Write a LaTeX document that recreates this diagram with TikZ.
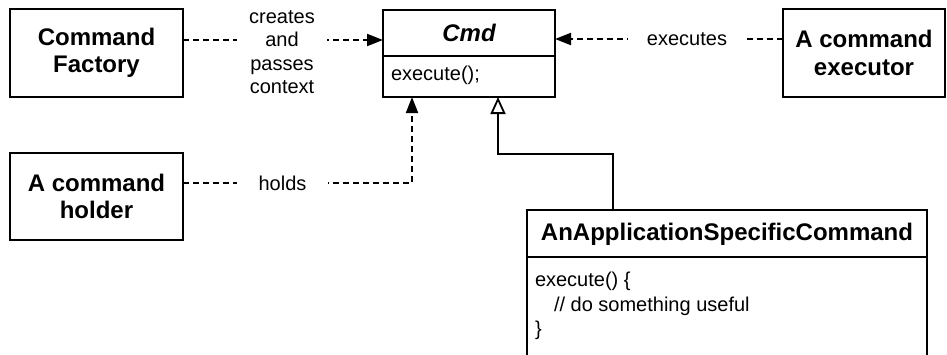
\documentclass[tikz,border=0pt]{standalone}
\usepackage{fontspec}
\setmainfont{Liberation Sans}
\usetikzlibrary{arrows.meta}
\begin{document}
\begin{tikzpicture}[x=1pt,y=-1pt,
  box/.style={draw, line width=2pt, inner sep=0pt, outer sep=0pt, anchor=north west, align=center, font=\bfseries\fontsize{24}{27.5}\selectfont},
  dep/.style={line width=2pt, dash pattern=on 6pt off 4pt, -{Triangle[length=16pt,width=12pt]}},
  inh/.style={line width=2pt, -{Triangle[open,length=17pt,width=15pt,line width=1.8pt]}},
  lbl/.style={fill=white, inner ysep=0pt, align=center, font=\fontsize{20}{23.5}\selectfont},
  txt/.style={inner sep=0pt, outer sep=0pt, align=left, font=\fontsize{20}{24.5}\selectfont},
  divider/.style={line width=2pt}
]
\useasboundingbox (0,0) rectangle (947,354);
% boxes
\node[box, minimum width=173pt, minimum height=88pt] (factory) at (10,9) {Command\\Factory};
\node[box, minimum width=162pt, minimum height=88pt] (exec) at (783,9) {A command\\executor};
\node[box, minimum width=173pt, minimum height=87pt] (holder) at (10,153) {A command\\holder};
\node[box, minimum width=172pt, minimum height=87pt] (cmd) at (383,10) {};
\node[inner sep=0pt, font=\bfseries\itshape\fontsize{24}{27.5}\selectfont] (cmdtitle) at (469,33) {Cmd};
\draw[divider] (cmd.west |- 0,56) coordinate (cdl) -- (cmd.east |- 0,56) coordinate (cdr);
\node[txt, anchor=north west] (cmdop) at (391,66) {execute();};
\node[box, minimum width=400pt, minimum height=170pt] (app) at (527,210) {};
\node[inner sep=0pt, font=\bfseries\fontsize{24}{27.5}\selectfont] (apptitle) at (727,234) {AnApplicationSpecificCommand};
\draw[divider] (app.west |- 0,257) coordinate (adl) -- (app.east |- 0,257) coordinate (adr);
\node[txt, anchor=north west] (appbody) at (535,272) {execute() \{\\\hspace*{19pt}// do something useful\\\}};
% connectors
\draw[dep] ([yshift=-31pt]factory.north east) -- ([yshift=-30pt]cmd.north west);
\draw[dep] ([yshift=-30pt]exec.north west) -- ([yshift=-29pt]cmd.north east);
\draw[dep] ([yshift=-30pt]holder.north east) -| ([xshift=29pt]cmd.south west);
\draw[inh] ([xshift=86pt]app.north west) -- ++(0,-56) -| ([xshift=115pt]cmd.south west);
% labels
\node[lbl, inner xsep=12pt] (lcreates) at (282,52) {creates\\and\\passes\\context};
\node[lbl, inner xsep=19pt] (lexec) at (687,39) {executes};
\node[lbl, inner xsep=22pt] (lholds) at (282.5,183) {holds};
\end{tikzpicture}
\end{document}
